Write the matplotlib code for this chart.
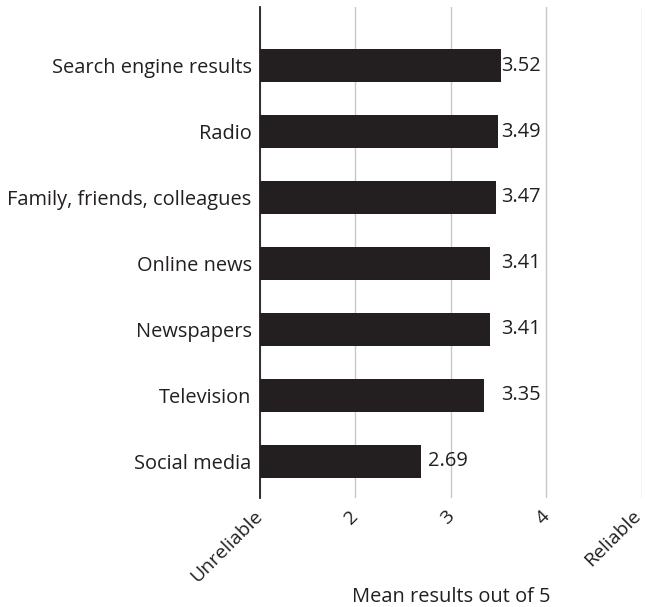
import matplotlib
matplotlib.use("Agg")
import matplotlib.pyplot as plt
from matplotlib.transforms import ScaledTranslation

# -----------------------------
# Data
# -----------------------------
categories = [
    "Social media",
    "Television",
    "Newspapers",
    "Online news",
    "Family, friends, colleagues",
    "Radio",
    "Search engine results",
]
values = [2.69, 3.35, 3.41, 3.41, 3.47, 3.49, 3.52]
tick_values = [1, 2, 3, 4, 5]
tick_labels = ["Unreliable", "2", "3", "4", "Reliable"]

dark = "#231f20"
fs = 14.4
plt.rcParams["font.family"] = ["Open Sans", "DejaVu Sans"]

# -----------------------------
# Figure
# -----------------------------
fig = plt.figure(figsize=(6.45, 6.07), dpi=100)
ax = fig.add_axes([0.4031, 0.1796, 0.5922, 0.8089])

ypos = list(range(len(categories)))
ax.barh(ypos, [v - 1 for v in values], left=1, height=0.5, color=dark, zorder=3)

for y, v in zip(ypos, values):
    lx = 3.53 if v > 3 else v + 0.065
    ax.text(lx, y, f"{v:.2f}", va="center", ha="left", fontsize=fs, color=dark)

ax.set_xlim(1, 5)
ax.set_ylim(-0.56, 6.89)
ax.set_yticks(ypos)
ax.set_yticklabels(categories, fontsize=fs, color=dark)
ax.set_xticks(tick_values)
ax.set_xticklabels(tick_labels, rotation=45, ha="right", va="center",
                   rotation_mode="anchor", fontsize=14, color=dark)
ax.tick_params(axis="y", length=0, pad=6)
ax.tick_params(axis="x", length=0, pad=11)

# keep the last label inside the figure
last = ax.get_xticklabels()[-1]
last.set_transform(last.get_transform() + ScaledTranslation(-4 / 100, 0, fig.dpi_scale_trans))

ax.grid(axis="x", color="#c8c8c8", linewidth=1, zorder=0)
for s in ["top", "right", "bottom"]:
    ax.spines[s].set_visible(False)
ax.spines["left"].set_color(dark)
ax.spines["left"].set_linewidth(1.3)
ax.spines["left"].set_zorder(4)

fig.text(0.6992, 1 - 597 / 607, "Mean results out of 5", ha="center", va="center",
         fontsize=fs, color=dark)

fig.savefig("out.png", dpi=100)
